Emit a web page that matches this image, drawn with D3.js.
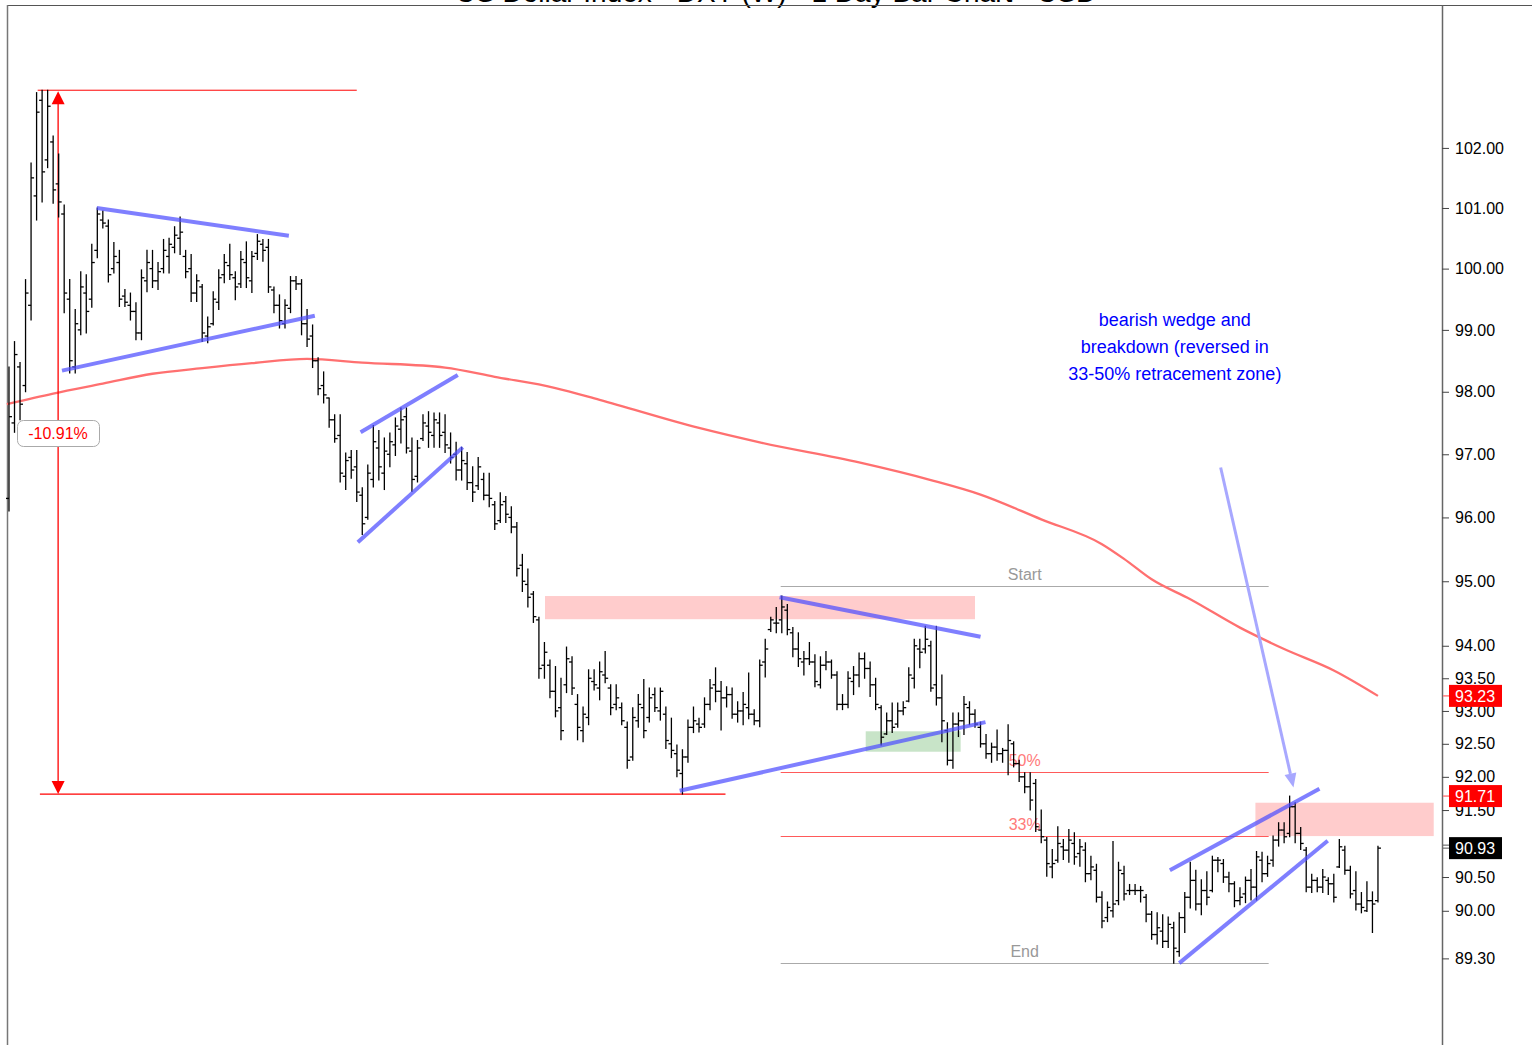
<!DOCTYPE html>
<html><head><meta charset="utf-8">
<script src="https://cdn.jsdelivr.net/npm/d3@7"></script>
<style>html,body{margin:0;padding:0;background:#fff;overflow:hidden}
text{font-family:"Liberation Sans",Arial,sans-serif}</style>
</head><body>
<svg id="chart" width="1532" height="1045"></svg>
<script>
const title = "US Dollar Index - DXY (W) - 1 Day Bar Chart - USD";

const open = [96.30,97.50,98.40,98.10,99.40,101.20,102.80,101.80,102.10,101.40,100.90,99.50,98.40,99.00,99.60,99.50,100.30,100.80,100.70,100.00,
100.10,99.55,99.40,99.30,98.95,99.80,100.00,99.80,100.00,100.20,100.35,100.50,100.20,100.00,99.60,99.70,98.90,99.10,99.45,99.90,
100.05,99.85,99.75,100.10,99.80,100.25,100.40,100.35,99.65,99.40,99.10,99.35,99.80,99.75,99.10,98.90,98.50,98.10,97.90,97.55,
97.30,96.65,96.95,96.80,96.35,96.00,96.60,97.10,96.70,97.00,97.15,97.40,97.60,97.05,96.65,97.25,97.45,97.30,97.50,97.35,
97.10,97.00,96.75,96.85,96.55,96.50,96.60,96.35,96.20,95.95,96.25,96.00,95.85,95.25,94.95,94.80,94.40,93.70,93.70,93.30,
93.05,93.40,93.75,93.10,92.70,92.90,93.45,93.35,93.55,93.35,93.10,93.05,92.75,92.30,92.85,93.05,92.90,93.25,93.00,92.95,
92.50,92.35,92.05,92.30,92.75,92.80,92.80,93.10,93.40,93.30,93.20,93.25,92.95,93.00,93.05,92.95,92.85,93.75,94.25,94.35,
94.40,94.55,94.20,93.95,93.75,93.80,93.75,93.40,93.70,93.75,93.55,93.10,93.10,93.45,93.55,93.80,93.65,93.40,93.05,92.65,
92.85,92.80,93.00,93.15,93.50,93.95,93.95,94.00,93.40,93.20,92.70,92.25,92.80,92.85,93.05,92.95,92.75,92.50,92.35,92.45,
92.35,92.40,92.50,92.20,92.00,91.85,91.90,91.20,91.05,90.65,90.75,90.95,90.90,91.00,90.85,90.90,90.55,90.60,90.20,89.90,
90.00,90.15,90.55,90.30,90.30,90.30,90.20,89.95,89.65,89.70,89.55,89.75,89.40,89.90,90.20,90.45,90.10,90.30,90.30,90.75,
90.70,90.50,90.40,90.15,90.25,90.45,90.35,90.75,90.55,90.75,91.05,91.20,91.15,91.55,91.15,90.90,90.35,90.45,90.35,90.45,
90.40,90.65,90.90,90.60,90.30,90.10,90.00,90.15,90.15];
const high = [98.40,98.81,98.47,99.82,101.75,102.93,102.97,102.97,102.20,101.90,101.05,99.82,99.33,99.95,99.90,100.40,101.00,100.95,100.80,100.43,
100.30,99.66,99.60,99.44,99.98,100.30,100.30,100.10,100.48,100.50,100.69,100.85,100.30,100.23,99.90,99.74,99.21,99.62,99.98,100.23,
100.40,99.95,100.28,100.44,100.28,100.56,100.48,100.48,99.70,99.57,99.49,99.87,99.87,99.82,99.33,99.08,98.55,98.32,97.90,97.63,
97.63,97.02,97.06,97.06,96.47,96.83,97.46,97.38,97.26,97.34,97.58,97.74,97.74,97.26,97.22,97.63,97.68,97.66,97.66,97.63,
97.34,97.19,97.11,97.03,96.80,96.95,96.70,96.70,96.25,96.39,96.33,96.17,95.92,95.42,95.19,94.84,94.44,94.05,93.78,93.68,
93.50,93.98,93.83,93.25,93.06,93.63,93.63,93.75,93.91,93.40,93.40,93.12,92.83,93.05,93.25,93.48,93.35,93.35,93.35,93.06,
92.89,92.48,92.41,92.86,93.06,92.89,93.20,93.48,93.66,93.45,93.37,93.35,93.14,93.28,93.58,93.02,93.78,94.10,94.44,94.59,
94.77,94.64,94.28,94.20,93.91,94.05,93.86,93.83,93.91,93.78,93.60,93.25,93.60,93.68,93.89,93.89,93.75,93.50,93.08,92.97,
93.12,93.12,93.14,93.66,94.10,94.10,94.30,94.07,94.30,93.55,92.82,92.97,92.97,93.22,93.14,93.02,92.83,92.64,92.51,92.71,
92.43,92.79,92.53,92.25,92.06,92.06,91.96,91.50,91.09,90.91,91.25,91.06,91.21,91.16,91.06,91.01,90.81,90.69,90.28,90.13,
91.03,90.72,90.66,90.39,90.39,90.36,90.24,89.99,89.97,89.94,89.91,89.83,89.97,90.27,90.72,90.60,90.46,90.58,90.81,90.79,
90.76,90.57,90.43,90.34,90.50,90.61,90.88,90.87,90.81,91.11,91.31,91.31,91.71,91.61,91.24,90.94,90.54,90.49,90.61,90.49,
90.54,91.06,90.96,90.66,90.58,90.27,90.43,90.28,90.96];
const low = [96.10,97.35,97.55,98.00,99.16,100.80,101.10,101.67,101.08,100.85,99.28,98.30,98.30,98.92,98.95,99.37,100.18,100.67,99.78,99.93,
99.38,99.38,99.16,98.84,98.84,99.62,99.69,99.66,99.93,99.93,100.26,100.23,99.85,99.46,99.46,98.81,98.79,99.08,99.33,99.77,
99.82,99.49,99.69,99.69,99.61,100.15,100.12,99.61,99.28,99.03,99.03,99.28,99.66,98.92,98.73,98.39,97.95,97.82,97.43,97.19,
96.56,96.44,96.62,96.25,95.73,95.97,96.48,96.59,96.44,96.80,96.98,97.18,97.02,96.41,96.56,97.22,97.11,97.11,97.11,97.03,
96.86,96.59,96.59,96.44,96.25,96.44,96.28,96.17,95.81,95.92,95.92,95.76,95.08,94.84,94.60,94.36,93.50,93.50,93.20,92.91,
92.56,93.28,93.25,92.56,92.53,92.79,93.32,93.17,93.43,92.94,93.02,92.79,92.13,92.25,92.75,92.59,92.83,92.99,92.86,92.43,
92.29,92.00,91.74,92.22,92.67,92.68,92.75,93.02,93.14,92.71,93.06,92.89,92.83,92.79,92.88,92.79,92.76,93.52,94.22,94.20,
94.20,94.17,93.83,93.68,93.55,93.71,93.37,93.35,93.63,93.50,93.02,93.02,93.05,93.25,93.37,93.50,93.22,93.02,92.48,92.64,
92.67,92.75,92.94,93.14,93.35,93.66,93.89,93.30,93.09,92.53,92.18,92.13,92.61,92.64,92.79,92.75,92.45,92.28,92.22,92.25,
92.22,92.03,92.15,91.93,91.76,91.50,91.18,91.01,90.51,90.49,90.72,90.76,90.72,90.69,90.66,90.43,90.46,90.13,89.75,89.84,
89.91,90.09,90.16,90.24,90.24,90.13,89.84,89.58,89.51,89.46,89.46,89.23,89.33,89.68,90.04,90.01,89.94,90.09,90.28,90.58,
90.42,90.28,90.06,90.09,90.12,90.16,90.16,90.43,90.51,90.66,90.96,91.01,91.10,91.01,90.91,90.28,90.27,90.28,90.27,90.24,
90.13,90.64,90.54,90.19,90.01,89.97,89.99,89.68,90.13];
const close = [97.60,98.60,97.80,99.60,101.50,102.60,101.60,102.70,101.30,101.10,99.60,98.50,99.10,99.70,99.30,100.10,100.90,100.75,99.90,100.20,
99.50,99.45,99.30,98.95,99.85,100.10,99.80,99.95,100.30,100.40,100.55,100.60,99.95,99.60,99.80,98.95,99.05,99.50,99.85,100.10,
99.90,99.70,100.15,99.85,100.20,100.45,100.30,99.70,99.40,99.15,99.40,99.80,99.75,99.10,98.85,98.50,98.05,97.95,97.55,97.25,
96.70,96.90,96.75,96.40,95.90,96.70,97.20,96.80,97.05,97.20,97.45,97.55,97.10,96.60,97.10,97.50,97.35,97.55,97.30,97.15,
96.95,96.75,96.90,96.55,96.40,96.80,96.35,96.30,95.90,96.20,96.05,95.85,95.20,95.00,94.75,94.45,93.65,93.90,93.30,93.00,
92.70,93.80,93.35,92.75,92.95,93.50,93.40,93.60,93.50,93.05,93.20,92.85,92.25,92.90,93.10,92.70,93.20,93.05,93.30,92.55,
92.40,92.10,92.30,92.75,92.85,92.75,93.10,93.35,93.30,93.20,93.25,92.95,93.00,93.10,92.95,92.85,93.70,93.95,94.40,94.35,
94.60,94.25,93.95,93.80,93.80,93.75,93.45,93.70,93.75,93.55,93.10,93.10,93.50,93.55,93.80,93.65,93.40,93.10,92.60,92.85,
92.75,93.00,93.05,93.55,94.00,93.90,94.10,93.35,93.20,92.85,92.25,92.80,92.85,93.10,92.95,92.80,92.50,92.35,92.45,92.35,
92.40,92.55,92.20,92.00,91.85,91.65,91.25,91.10,90.70,90.70,91.00,90.90,91.05,90.80,90.95,90.55,90.65,90.20,89.85,90.05,
90.10,90.60,90.25,90.30,90.30,90.30,89.95,89.65,89.75,89.55,89.80,89.45,89.90,90.20,90.45,90.10,90.30,90.20,90.75,90.75,
90.50,90.40,90.15,90.20,90.45,90.35,90.80,90.55,90.70,91.05,91.20,91.10,91.55,91.15,91.00,90.35,90.45,90.35,90.50,90.40,
90.20,90.95,90.60,90.25,90.10,90.05,90.15,90.10,90.93];

// moving average at selected bars
const maIndex = [-0.4, 8, 17, 26, 35, 44, 54, 64, 79, 88, 99, 107, 125, 136, 154, 167, 176, 187, 198, 202, 207, 214, 223, 231, 240, 248];
const maValue = [97.80, 97.97, 98.13, 98.29, 98.38, 98.46, 98.53, 98.47, 98.39, 98.24, 98.06, 97.87, 97.42, 97.19, 96.87, 96.59, 96.36, 95.97, 95.58, 95.35, 95.03, 94.72, 94.28, 93.95, 93.62, 93.23];

const yTicks = [102, 101, 100, 99, 98, 97, 96, 95, 94, 93.5, 93, 92.5, 92, 91.5, 90.5, 90, 89.3];
const lastLabels = [93.23, 91.71, 90.93];
const lastColors = ["#ff0000", "#ff0000", "#000000"];

// annotations (bar index, price)
const trendLines = [
  [15.9, 101.00, 50.7, 100.54],
  [9.6, 98.34, 55.4, 99.23],
  [63.7, 97.35, 81.3, 98.27],
  [63.2, 95.61, 82.2, 97.11],
  [139.6, 94.75, 176.0, 94.14],
  [121.5, 91.79, 176.9, 92.83],
  [210.3, 90.60, 237.4, 91.82],
  [212.0, 89.23, 238.9, 91.04]
];
const pinkZones = [[97.1, 175.0, 94.41, 94.77], [225.8, 258.1, 91.11, 91.61]];
const greenZones = [[155.2, 172.4, 92.38, 92.69]];
const fibStart = 94.93, fibEnd = 89.23, fibX = [139.8, 228.2];
const fibLevels = [0.5, 0.33];
const peakPrice = 102.97, troughPrice = 91.74;
const noteLines = ["bearish wedge and", "breakdown (reversed in", "33-50% retracement zone)"];

const svg = d3.select("#chart");
const x = d3.scaleLinear().domain([-0.36, 259.6]).range([7, 1442]);
const y = d3.scaleLog().domain([88.04, 104.42]).range([1045, 5]);

// title (cut at top)
svg.append("text").attr("x", 776).attr("y", 1.5).attr("text-anchor", "middle")
  .attr("font-size", 28).attr("fill", "#000").text(title);

// frame
svg.append("line").attr("x1", 7).attr("x2", 1532).attr("y1", 5.5).attr("y2", 5.5).attr("stroke", "#555").attr("stroke-width", 1);
svg.append("line").attr("x1", 7.5).attr("x2", 7.5).attr("y1", 5).attr("y2", 1045).attr("stroke", "#777").attr("stroke-width", 1.5);

// zones
svg.selectAll(".pink").data(pinkZones).join("rect")
  .attr("x", d => x(d[0])).attr("width", d => x(d[1]) - x(d[0]))
  .attr("y", d => y(d[3])).attr("height", d => y(d[2]) - y(d[3]))
  .attr("fill", "#ffcccc");
svg.selectAll(".green").data(greenZones).join("rect")
  .attr("x", d => x(d[0])).attr("width", d => x(d[1]) - x(d[0]))
  .attr("y", d => y(d[3])).attr("height", d => y(d[2]) - y(d[3]))
  .attr("fill", "#c8e4c8");

// fib retracement
const fibData = [
  {p: fibStart, label: "Start", color: "#aaaaaa", tc: "#999999"},
  {p: fibEnd, label: "End", color: "#aaaaaa", tc: "#999999"},
  ...fibLevels.map(l => ({p: fibEnd + (fibStart - fibEnd) * l, label: Math.round(l * 100) + "%", color: "#ff5a5a", tc: "#ff7a7a"}))
];
const fibG = svg.append("g");
fibData.forEach(f => {
  fibG.append("line").attr("x1", x(fibX[0])).attr("x2", x(fibX[1]))
    .attr("y1", Math.round(y(f.p)) + 0.5).attr("y2", Math.round(y(f.p)) + 0.5)
    .attr("stroke", f.color).attr("stroke-width", 1);
});

// moving average
const maLine = d3.line().x(d => x(d[0])).y(d => y(d[1])).curve(d3.curveMonotoneX);
svg.append("path").datum(maIndex.map((d, i) => [d, maValue[i]]))
  .attr("d", maLine).attr("fill", "none").attr("stroke", "#ff7070").attr("stroke-width", 2.3);

// peak / trough measurement
const red = "#ff0000";
svg.append("line").attr("x1", x(5.2)).attr("x2", x(63)).attr("y1", y(peakPrice)).attr("y2", y(peakPrice)).attr("stroke", red).attr("stroke-width", 1);
svg.append("line").attr("x1", x(5.6)).attr("x2", x(129.8)).attr("y1", y(troughPrice)).attr("y2", y(troughPrice)).attr("stroke", red).attr("stroke-width", 1.3);
const ax = x(8.9);
svg.append("line").attr("x1", ax).attr("x2", ax).attr("y1", y(peakPrice) + 8).attr("y2", y(troughPrice) - 8).attr("stroke", red).attr("stroke-width", 1.3);
svg.append("path").attr("d", `M${ax},${y(peakPrice)+1} L${ax-6.5},${y(peakPrice)+14} L${ax+6.5},${y(peakPrice)+14} Z`).attr("fill", red);
svg.append("path").attr("d", `M${ax},${y(troughPrice)} L${ax-6.5},${y(troughPrice)-13} L${ax+6.5},${y(troughPrice)-13} Z`).attr("fill", red);

// OHLC bars
const bars = svg.append("g").attr("stroke", "#000").attr("stroke-width", 1.3);
open.forEach((o, i) => {
  const cx = x(i);
  bars.append("line").attr("x1", cx).attr("x2", cx).attr("y1", y(high[i]) - 0.5).attr("y2", y(low[i]) + 0.5);
  bars.append("line").attr("x1", cx - 3).attr("x2", cx).attr("y1", y(o)).attr("y2", y(o));
  bars.append("line").attr("x1", cx).attr("x2", cx + 3).attr("y1", y(close[i])).attr("y2", y(close[i]));
});

// trend lines
svg.selectAll(".tl").data(trendLines).join("line")
  .attr("x1", d => x(d[0])).attr("y1", d => y(d[1])).attr("x2", d => x(d[2])).attr("y2", d => y(d[3]))
  .attr("stroke", "#4d4dff").attr("stroke-opacity", 0.72).attr("stroke-width", 4);

// pointing arrow
const ar = [219.5, 96.79, 232.7, 91.84];
const x1 = x(ar[0]), y1 = y(ar[1]), x2 = x(ar[2]), y2 = y(ar[3]);
const ang = Math.atan2(y2 - y1, x2 - x1);
const hl = 14, hw = 6;
const bx = x2 - hl * Math.cos(ang), by = y2 - hl * Math.sin(ang);
svg.append("line").attr("x1", x1).attr("y1", y1).attr("x2", bx).attr("y2", by)
  .attr("stroke", "#a8a8ff").attr("stroke-width", 3);
svg.append("path").attr("d", `M${x2},${y2} L${bx + hw*Math.sin(ang)},${by - hw*Math.cos(ang)} L${bx - hw*Math.sin(ang)},${by + hw*Math.cos(ang)} Z`)
  .attr("fill", "#a8a8ff");

// fib labels
fibData.forEach(f => {
  fibG.append("text").attr("x", x((fibX[0] + fibX[1]) / 2)).attr("y", y(f.p) - 6)
    .attr("text-anchor", "middle").attr("font-size", 16).attr("fill", f.tc).text(f.label);
});

// percentage label
const pct = ((troughPrice - peakPrice) / peakPrice * 100).toFixed(2) + "%";
svg.append("rect").attr("x", 17.5).attr("y", 420.5).attr("width", 82).attr("height", 26).attr("rx", 6)
  .attr("fill", "#fff").attr("stroke", "#aaa");
svg.append("text").attr("x", 58).attr("y", 439).attr("text-anchor", "middle").attr("font-size", 16).attr("fill", red).text(pct);

// note
svg.selectAll(".note").data(noteLines).join("text")
  .attr("x", x(211.2)).attr("y", (d, i) => 326 + i * 27).attr("text-anchor", "middle")
  .attr("font-size", 18).attr("fill", "#0000ff").text(d => d);

// right axis
const axis = d3.axisRight(y).tickValues(yTicks).tickFormat(d3.format(".2f")).tickSize(7).tickSizeOuter(0).tickPadding(6);
const ag = svg.append("g").attr("transform", "translate(1442,0)").call(axis);
ag.select(".domain").attr("stroke", "#666").attr("stroke-width", 1.5);
ag.selectAll(".tick line").attr("stroke", "#444");
ag.selectAll(".tick text").attr("font-size", 16).attr("fill", "#000").attr("font-family", '"Liberation Sans",Arial,sans-serif');

// last-value labels
lastLabels.forEach((v, i) => {
  const yy = y(v);
  const g = svg.append("g");
  if (i < 2) g.append("line").attr("x1", 1443).attr("x2", 1450).attr("y1", yy).attr("y2", yy).attr("stroke", "#ff8080").attr("stroke-width", 1.5);
  else {
    g.append("line").attr("x1", 1443).attr("x2", 1449).attr("y1", yy - 3).attr("y2", yy - 3).attr("stroke", "#555");
    g.append("line").attr("x1", 1443).attr("x2", 1449).attr("y1", yy).attr("y2", yy).attr("stroke", "#555");
  }
  g.append("rect").attr("x", 1449).attr("y", yy - 11).attr("width", 53).attr("height", 22).attr("fill", lastColors[i]);
  g.append("text").attr("x", 1455).attr("y", yy + 6).attr("font-size", 16).attr("fill", "#fff").text(v.toFixed(2));
});
</script>
</body></html>
